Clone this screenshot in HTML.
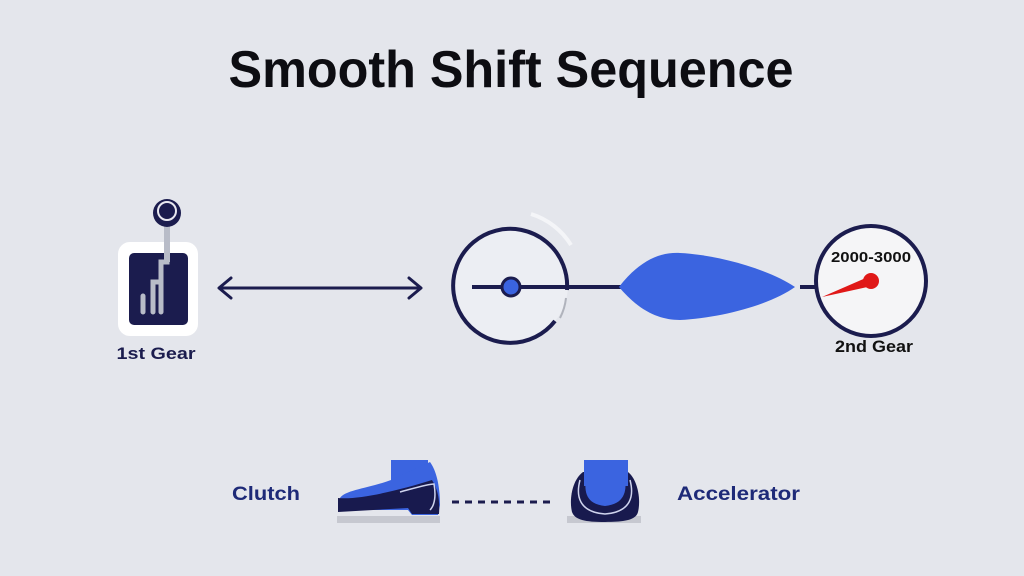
<!DOCTYPE html>
<html><head><meta charset="utf-8"><style>
html,body{margin:0;padding:0;background:#e4e6ec;}
svg{display:block;}
text{font-family:"Liberation Sans",sans-serif;font-weight:bold;}
</style></head><body>
<svg width="1024" height="576" viewBox="0 0 1024 576" xmlns="http://www.w3.org/2000/svg">
<rect width="1024" height="576" fill="#e4e6ec"/>
<text x="511" y="87" font-size="52" text-anchor="middle" fill="#0d0d12" textLength="565" lengthAdjust="spacingAndGlyphs">Smooth Shift Sequence</text>

<!-- gear icon -->
<rect x="118" y="242" width="80" height="94" rx="12" fill="#ffffff"/>
<rect x="129" y="253" width="59" height="72" rx="5" fill="#1b1c4e"/>
<path d="M143 312 V296 M153 312 V282 H161 V312 M161 282 V262 H167 V226" stroke="#b8bcc8" stroke-width="5" fill="none" stroke-linecap="round"/>
<rect x="164" y="222" width="6" height="40" fill="#b8bcc8"/>
<circle cx="167" cy="213" r="14" fill="#1b1c4e"/>
<circle cx="167" cy="211" r="9" fill="#1b1c4e" stroke="#e8e8f0" stroke-width="2"/>
<text x="156" y="359" font-size="17" text-anchor="middle" fill="#1b1c4e" textLength="79" lengthAdjust="spacingAndGlyphs">1st Gear</text>

<!-- double arrow -->
<line x1="219" y1="288" x2="421" y2="288" stroke="#1b1c4e" stroke-width="3"/>
<path d="M231 278 L219 288 L231 298 M409 278 L421 288 L409 298" stroke="#1b1c4e" stroke-width="3" fill="none" stroke-linecap="round" stroke-linejoin="round"/>

<!-- left circle -->
<circle cx="511" cy="285" r="57" fill="#eceef3"/>
<path d="M555 321 A57 57 0 1 1 567 290" stroke="#1b1c4e" stroke-width="4" fill="none"/>
<path d="M531 214 A72 72 0 0 1 571 245" stroke="#f4f5f8" stroke-width="4" fill="none"/>
<path d="M566 298 A57 57 0 0 1 560 318" stroke="#b0b3bc" stroke-width="2" fill="none"/>
<line x1="472" y1="287" x2="625" y2="287" stroke="#1b1c4e" stroke-width="4"/>
<circle cx="511" cy="287" r="9" fill="#3a63e0" stroke="#1b1c4e" stroke-width="3"/>

<!-- blob -->
<path d="M619 287 C640 260 660 252 680 253 C720 255 770 270 795 287 C770 305 720 318 680 320 C660 320 640 312 619 287 Z" fill="#3b64e0"/>

<!-- right gauge -->
<line x1="800" y1="287" x2="818" y2="287" stroke="#1b1c4e" stroke-width="4"/>
<circle cx="871" cy="281" r="55" fill="#f5f5f7" stroke="#1b1c4e" stroke-width="4"/>
<text x="871" y="262" font-size="15" text-anchor="middle" fill="#111" textLength="80" lengthAdjust="spacingAndGlyphs">2000-3000</text>
<path d="M822 297 L868 277 L872 286 Z" fill="#e01818"/>
<circle cx="871" cy="281" r="8" fill="#e01818"/>
<text x="874" y="352" font-size="17" text-anchor="middle" fill="#111" textLength="78" lengthAdjust="spacingAndGlyphs">2nd Gear</text>

<!-- bottom -->
<text x="232" y="500" font-size="19" fill="#1e2a78" textLength="68" lengthAdjust="spacingAndGlyphs">Clutch</text>
<text x="677" y="500" font-size="19" fill="#1e2a78" textLength="123" lengthAdjust="spacingAndGlyphs">Accelerator</text>

<!-- left shoe -->
<rect x="337" y="516" width="103" height="7" fill="#c6c8d0"/>
<rect x="391" y="460" width="37" height="40" fill="#3b64e0"/>
<path d="M340 510 V498 C345 490 370 488 391 480 L430 462 C436 470 440 485 440 505 L438 515 H412 L408 510 Z" fill="#3b64e0"/>
<path d="M338 512 V498 C360 500 400 490 432 480 C438 490 440 500 439 514 H412 L408 508 Z" fill="#181a4e"/>
<path d="M400 492 C415 488 428 484 434 484 C436 495 435 505 430 510" stroke="#cfd4ee" stroke-width="1.5" fill="none"/>

<!-- dashes -->
<line x1="452" y1="502" x2="556" y2="502" stroke="#1b1c4e" stroke-width="3" stroke-dasharray="7 6"/>

<!-- right shoe -->
<rect x="567" y="516" width="74" height="7" fill="#c6c8d0"/>
<path d="M583 472 C572 480 569 500 572 512 C575 520 585 522 605 522 C625 522 636 520 638 512 C641 500 638 480 628 472 Z" fill="#181a4e"/>
<rect x="584" y="460" width="44" height="26" fill="#3b64e0"/>
<path d="M586 478 C584 492 586 504 605 506 C624 504 627 492 625 478 Z" fill="#3b64e0"/>
<path d="M580 480 C576 495 578 512 605 514 C632 512 634 495 630 480" stroke="#cfd4ee" stroke-width="1.5" fill="none"/>
</svg>
</body></html>
